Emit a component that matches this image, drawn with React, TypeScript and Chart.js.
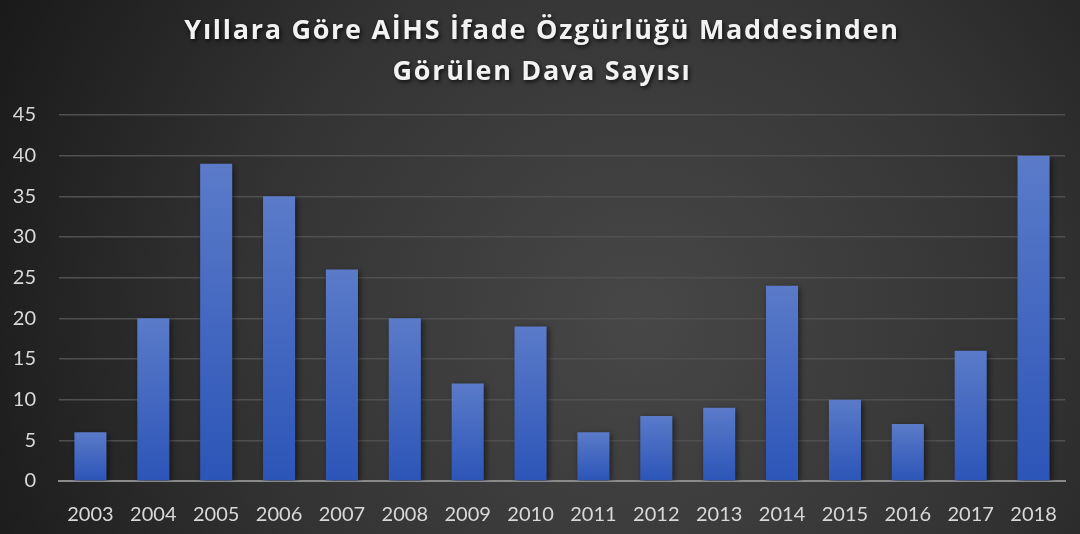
import React, { useEffect, useRef } from "react";
import { Chart, registerables } from "chart.js";

Chart.register(...registerables);

const years = ["2003","2004","2005","2006","2007","2008","2009","2010","2011","2012","2013","2014","2015","2016","2017","2018"];
const caseCounts = [6, 20, 39, 35, 26, 20, 12, 19, 6, 8, 9, 24, 10, 7, 16, 40];
const titleLines = ["Yıllara Göre AİHS İfade Özgürlüğü Maddesinden", "Görülen Dava Sayısı"];

const FONT = "Lato, 'Open Sans', sans-serif";

const bgPlugin = {
  id: "bgPlugin",
  beforeDraw(chart: any) {
    const { ctx, width, height } = chart;
    ctx.save();
    const g = ctx.createRadialGradient(640, 320, 0, 640, 320, 760);
    g.addColorStop(0, "#474747");
    g.addColorStop(0.5, "#343434");
    g.addColorStop(1, "#161616");
    ctx.fillStyle = g;
    ctx.fillRect(0, 0, width, height);
    ctx.restore();
  },
};

const titlePlugin = {
  id: "titlePlugin",
  afterDraw(chart: any) {
    const { ctx, width } = chart;
    ctx.save();
    ctx.font = "bold 27px 'Open Sans', sans-serif";
    (ctx as any).letterSpacing = "1.7px";
    ctx.textAlign = "center";
    ctx.textBaseline = "middle";
    ctx.fillStyle = "#f2f2f2";
    ctx.shadowColor = "rgba(0,0,0,0.75)";
    ctx.shadowBlur = 4;
    ctx.shadowOffsetX = 1.5;
    ctx.shadowOffsetY = 2;
    ctx.fillText(titleLines[0], width / 2 + 2, 31);
    ctx.fillText(titleLines[1], width / 2 + 2, 72);
    ctx.restore();
  },
};

const shadowPlugin = {
  id: "shadowPlugin",
  beforeDatasetsDraw(chart: any) {
    const ctx = chart.ctx;
    ctx.save();
    ctx.shadowColor = "rgba(0,0,0,0.55)";
    ctx.shadowBlur = 6;
    ctx.shadowOffsetX = 2;
    ctx.shadowOffsetY = 2;
  },
  afterDatasetsDraw(chart: any) {
    chart.ctx.restore();
  },
};

export default function App() {
  const ref = useRef<HTMLCanvasElement>(null);
  useEffect(() => {
    document.body.style.margin = "0";
    const chart = new Chart(ref.current!, {
      type: "bar",
      data: {
        labels: years,
        datasets: [
          {
            data: caseCounts,
            backgroundColor: (c: any) => {
              const ch = c.chart;
              const y = ch.scales && ch.scales.y;
              if (!y || c.raw == null) return "#4466c0";
              const top = y.getPixelForValue(c.raw);
              const bot = y.getPixelForValue(0);
              if (!isFinite(top) || !isFinite(bot)) return "#4466c0";
              const g = ch.ctx.createLinearGradient(0, top, 0, bot);
              g.addColorStop(0, "#5b7bc9");
              g.addColorStop(1, "#2c55b8");
              return g;
            },
            borderWidth: 0,
            barPercentage: 0.51,
            categoryPercentage: 1,
          },
        ],
      },
      options: {
        responsive: false,
        animation: false,
        layout: { padding: { top: 115, left: 10, right: 15, bottom: 0 } },
        plugins: {
          legend: { display: false },
          title: { display: false },
          tooltip: { enabled: false },
        },
        scales: {
          x: {
            grid: { display: false, drawTicks: false },
            border: { display: true, color: "#8a8a8a", width: 2 },
            ticks: { color: "#d9d9d9", font: { family: FONT, size: 20 }, padding: 22 },
            afterFit: (s: any) => { s.height = 53; },
          },
          y: {
            min: 0,
            max: 45,
            ticks: { stepSize: 5, color: "#d9d9d9", font: { family: FONT, size: 20 }, padding: 23 },
            grid: { color: "#505050", lineWidth: 1.5, drawTicks: false },
            border: { display: false },
            afterFit: (s: any) => { s.width = 49; },
          },
        },
      },
      plugins: [bgPlugin, shadowPlugin, titlePlugin],
    });
    return () => chart.destroy();
  }, []);
  return (
    <div style={{ width: 1080, height: 534 }}>
      <canvas ref={ref} width={1080} height={534} />
    </div>
  );
}
